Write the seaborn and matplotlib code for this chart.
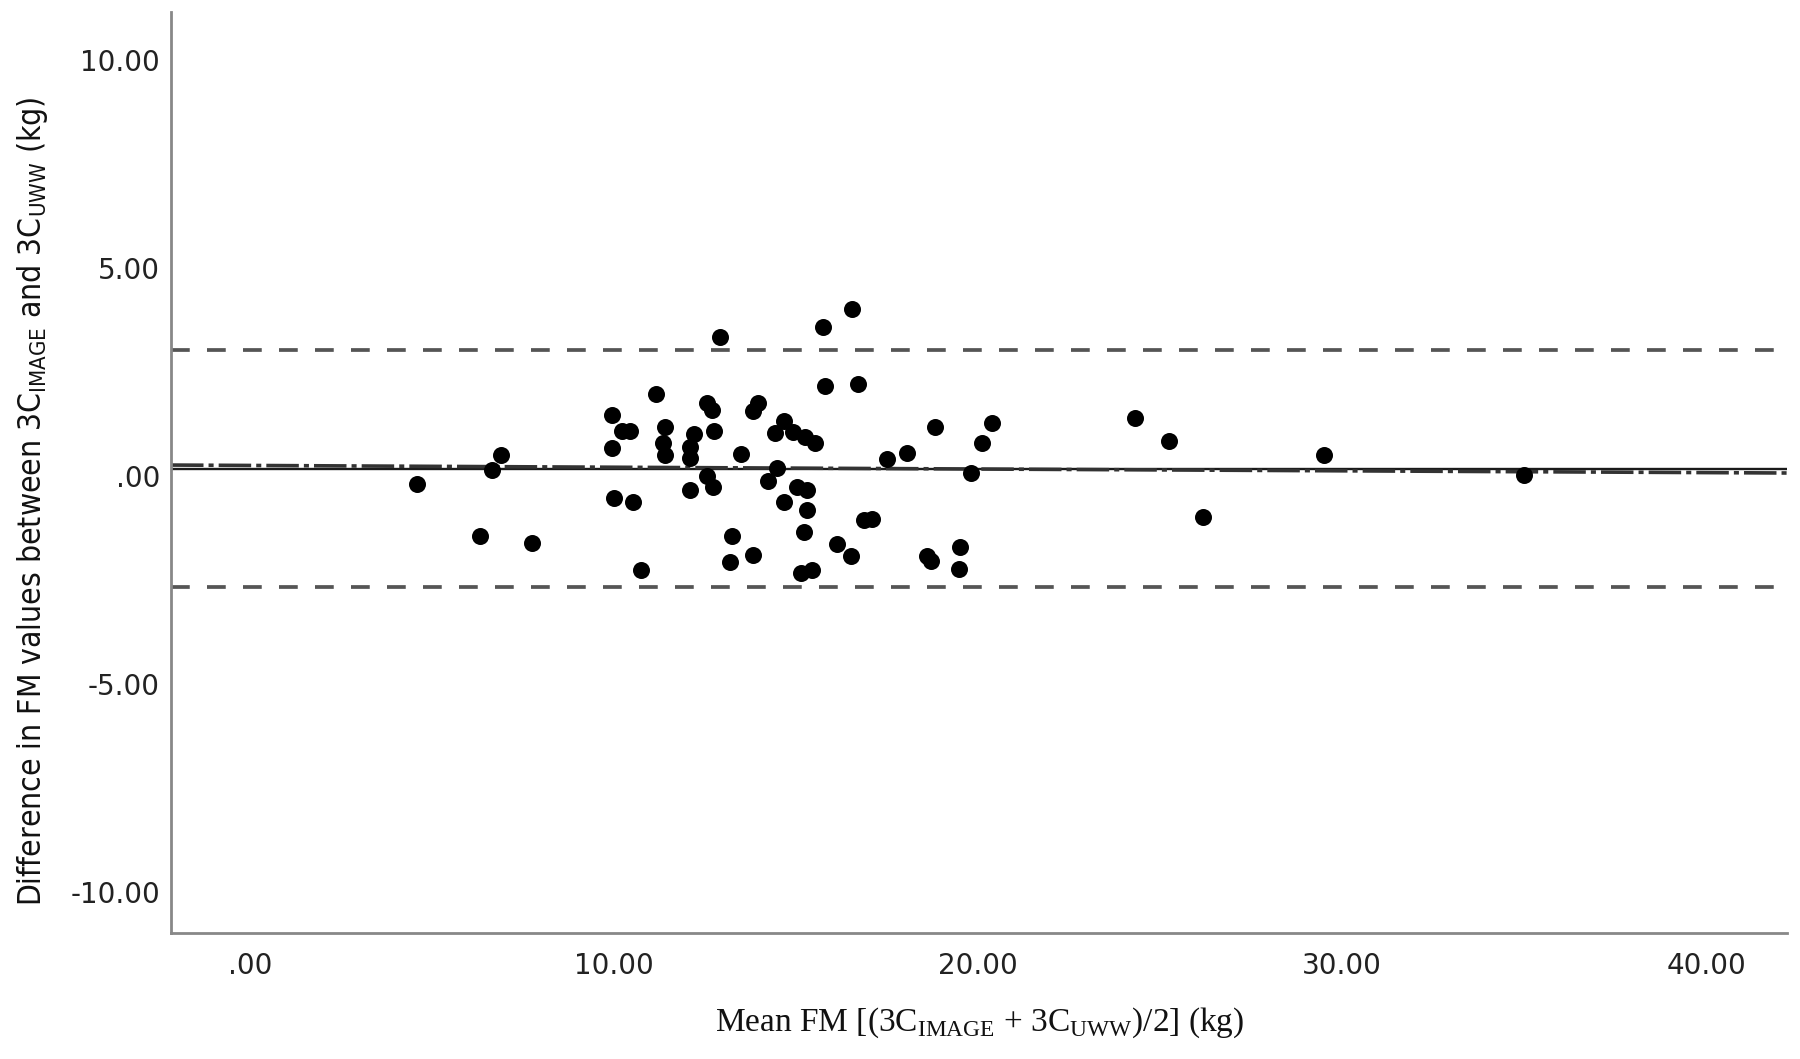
import numpy as np
import pandas as pd
import seaborn as sns
import matplotlib.pyplot as plt

# ---- data (Bland-Altman plot) ----
mean_fm = [4.57, 6.31, 6.63, 6.88, 7.73, 9.95, 9.95, 10.00, 10.22, 10.43,
           10.50, 10.74, 11.15, 11.40, 11.33, 11.38, 12.19, 12.08, 12.08, 12.08,
           12.54, 12.68, 12.74, 12.54, 12.72, 12.91, 13.23, 13.18, 13.48, 13.81,
           13.82, 13.96, 14.23, 14.42, 14.48, 14.67, 14.65, 14.92, 15.03, 15.29,
           15.24, 15.52, 15.29, 15.22, 15.13, 15.43, 15.72, 15.79, 16.53, 16.69,
           17.50, 18.05, 18.80, 19.80, 20.10, 20.37, 24.31, 25.25, 26.17, 29.51,
           35.00, 16.13, 16.50, 16.85, 17.08, 18.60, 18.70, 19.50, 19.46]
diff_fm = [-0.18, -1.43, 0.14, 0.51, -1.61, 1.48, 0.67, -0.53, 1.10, 1.10,
           -0.61, -2.25, 1.97, 1.19, 0.80, 0.51, 1.02, 0.71, 0.43, -0.33,
           1.76, 1.60, 1.10, 0.00, -0.25, 3.36, -1.43, -2.05, 0.54, -1.89,
           1.56, 1.76, -0.11, 1.04, 0.19, 1.32, -0.61, 1.07, -0.25, -0.33,
           0.95, 0.80, -0.82, -1.35, -2.33, -2.25, 3.58, 2.17, 4.02, 2.21,
           0.42, 0.57, 1.19, 0.07, 0.81, 1.28, 1.40, 0.85, -0.97, 0.51,
           0.03, -1.63, -1.91, -1.05, -1.03, -1.91, -2.03, -1.71, -2.23]

mean_diff = 0.18
loa_upper = 3.04
loa_lower = -2.67
reg_intercept = 0.26
reg_slope = -0.0043

x_ticks = [0, 10, 20, 30, 40]
x_tick_labels = [".00", "10.00", "20.00", "30.00", "40.00"]
y_ticks = [10, 5, 0, -5, -10]
y_tick_labels = ["10.00", "5.00", ".00", "-5.00", "-10.00"]

df = pd.DataFrame({"mean": mean_fm, "diff": diff_fm})

# ---- plot ----
sns.set_theme(style="white")
plt.rcParams['font.family'] = ['DejaVu Sans']

fig = plt.figure(figsize=(18, 10.59), dpi=100)
ax = fig.add_axes([0.095, 0.119, 0.898, 0.870])

xlim = (-2.18, 42.23)
ax.set_xlim(*xlim)
ax.set_ylim(-10.98, 11.17)

# limits of agreement
for v in (loa_upper, loa_lower):
    ax.axhline(v, color='#555555', lw=2.7, dashes=(5, 4.6), zorder=1)

# mean difference
ax.axhline(mean_diff, color='#1a1a1a', lw=1.7, zorder=2)

# regression line
xr = np.array(xlim)
ax.plot(xr, reg_intercept + reg_slope * xr, color='#333333', lw=2.6,
        dashes=(9, 1.4, 1.4, 1.4), zorder=2)

sns.scatterplot(data=df, x="mean", y="diff", color='black', s=150,
                edgecolor=None, linewidth=0, ax=ax, zorder=3, legend=False)

ax.set_xticks(x_ticks)
ax.set_xticklabels(x_tick_labels, fontsize=20, color='#222222')
ax.set_yticks(y_ticks)
ax.set_yticklabels(y_tick_labels, fontsize=20, color='#222222')
ax.tick_params(axis='both', length=0)
ax.tick_params(axis='x', pad=14)
ax.tick_params(axis='y', pad=8)

for side in ('top', 'right'):
    ax.spines[side].set_visible(False)
for side in ('left', 'bottom'):
    ax.spines[side].set_color('#888888')
    ax.spines[side].set_linewidth(2.0)

ax.set_xlabel(r"Mean FM [(3C$_{\mathregular{IMAGE}}$ + 3C$_{\mathregular{UWW}}$)/2] (kg)",
              fontsize=24, family=['Liberation Serif'], color='#111111', labelpad=18)
ax.set_ylabel(r"Difference in FM values between 3C$_{\mathregular{IMAGE}}$ and 3C$_{\mathregular{UWW}}$ (kg)",
              fontsize=22.8, family=['DejaVu Sans'], fontstretch='condensed',
              color='#111111')
ax.yaxis.set_label_coords(-0.075, 0.468)

fig.savefig("out.png", dpi=100)
